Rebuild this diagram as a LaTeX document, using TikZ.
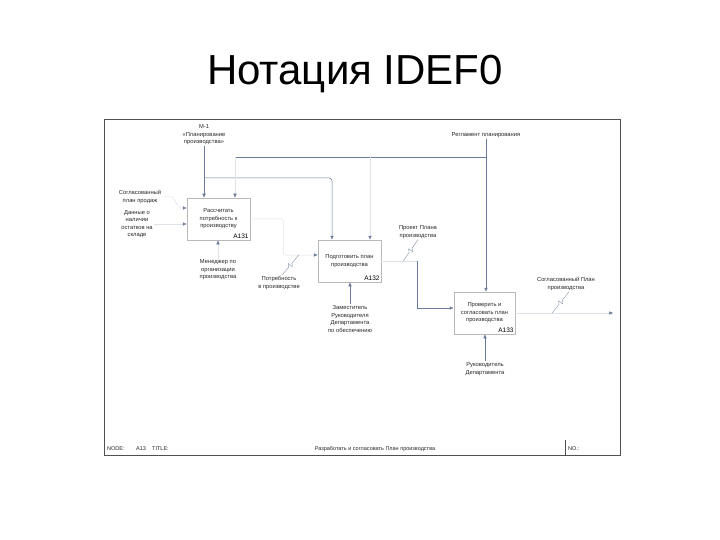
\documentclass[tikz,border=0pt]{standalone}
\usepackage{fontspec}
\setmainfont{Liberation Sans}
\usetikzlibrary{arrows.meta, positioning, calc}
\definecolor{flowcol}{HTML}{6A7A99}
\definecolor{framecol}{HTML}{505050}

\begin{document}
\begin{tikzpicture}[x=1pt, y=-1pt,
  act/.style={draw=gray!55, line width=0.5pt, minimum width=63pt, minimum height=42pt,
    font=\fontsize{5.8}{7.5}\selectfont, align=center, inner sep=1pt, text=black!85},
  num/.style={font=\fontsize{6.5}{7.5}\selectfont, anchor=south east, inner sep=1.5pt},
  lbl/.style={font=\fontsize{5.8}{7.5}\selectfont, align=center, inner sep=1pt, text=black!85},
  foot/.style={font=\fontsize{5.5}{6.5}\selectfont, anchor=west, inner sep=0pt, text=black!85},
  conn/.style={-{Latex[length=4pt, width=3.6pt, color=flowcol]}, draw=flowcol, line width=0.5pt},
  faint/.style={draw=flowcol!22, line width=0.5pt},
  squig/.style={draw=flowcol!80, line width=0.4pt,
    to path={-- ($(\tikztostart)!0.4!(\tikztotarget)$)
             -- ($(\tikztostart)!0.5!(\tikztotarget)!2.5pt!90:(\tikztotarget)$)
             -- ($(\tikztostart)!0.5!(\tikztotarget)!2.5pt!-90:(\tikztotarget)$)
             -- ($(\tikztostart)!0.6!(\tikztotarget)$) -- (\tikztotarget)}},
  title/.style={font=\fontsize{42}{46}\selectfont},
]
\useasboundingbox[fill=white] (0,0) rectangle (720,540);

% =================== Title ===================
\node[title, anchor=base] (head) at (355,85) {Нотация IDEF0};

% =================== Sheet and footer ===================
\node[draw=framecol, line width=0.6pt, minimum width=516pt, minimum height=336pt,
      inner sep=0pt] (sheet) at (362,287) {};
\node[foot] (fnode) at (107,449) {NODE:};
\node[foot] (fa13) at (136,449) {A13};
\node[foot] (ftitle) at (152,449) {TITLE:};
\node[foot, anchor=center] (fname) at (375,449) {Разработать и согласовать План производства};
\node[foot] (fno) at (568,449) {NO.:};
\draw[framecol, line width=0.5pt] ([xshift=-3pt]fno.west |- 0,440) -- ([xshift=-3pt]fno.west |- sheet.south);

% =================== Activities ===================
\node[act] (a131) at (218.5,219) {Рассчитать\\потребность к\\производству};
\node[num] at (a131.south east) {A131};
\node[act] (a132) at (349.5,261) {Подготовить план\\производства};
\node[num] at (a132.south east) {A132};
\node[act, minimum width=61pt] (a133) at (484.5,313) {Проверить и\\согласовать план\\производства};
\node[num] at (a133.south east) {A133};

% =================== Controls ===================
\node[lbl] (m1) at (204,135) {М-1\\«Планирование\\производства»};
\node[lbl] (reg) at (486,135) {Регламент планирования};
\coordinate (bus1) at (204,178);
\coordinate (bus2) at (235,157);

\draw[conn] (m1.south) -- (m1.south |- a131.north);
\draw[conn, rounded corners=3pt] (bus1) -| ([xshift=-17.5pt]a132.north);
\draw[draw=flowcol, line width=0.5pt] (bus2) -- (reg.south |- bus2);
\draw[conn] (reg.south) -- (reg.south |- a133.north);
\draw[conn, faint] (bus2) -- (bus2 |- a131.north);
\draw[conn, faint] ([xshift=20.5pt]a132.north |- bus2) -- ([xshift=20.5pt]a132.north);

% =================== Inputs ===================
\node[lbl] (sales) at (140,197) {Согласованный\\план продаж};
\node[lbl] (stock) at (137,224) {Данные о\\наличии\\остатков на\\складе};

\draw[conn, faint] (sales.east) -- ++(10,0) -- ([xshift=-7pt, yshift=11pt]a131.west)
  -- ([yshift=11pt]a131.west);
\draw[conn, faint] (stock.east) -- (stock.east -| a131.west);

% =================== Mechanisms ===================
\node[lbl] (mgr) at (218,270) {Менеджер по\\организации\\производства};
\node[lbl] (dep) at (350,319) {Заместитель\\Руководителя\\Департамента\\по обеспечению};
\node[lbl] (boss) at (485,369) {Руководитель\\Департамента};

\draw[conn, faint] (mgr.north) -- (mgr.north |- a131.south);
\draw[conn] (dep.north) -- (dep.north |- a132.south);
\draw[conn] (boss.north) -- (boss.north |- a133.south);

% =================== Outputs ===================
\node[lbl] (need) at (279,283) {Потребность\\в производстве};
\node[lbl] (draft) at (418,232) {Проект Плана\\производства};
\node[lbl] (final) at (566,284) {Согласованный План\\производства};

% A131 -> A132
\draw[conn, faint, rounded corners=2pt] (a131.east) -- ++(33,0) |- ([yshift=6pt]a132.west);
\draw[squig] ([xshift=3pt]need.north) to ([xshift=-19pt, yshift=6pt]a132.west);

% A132 -> A133
\coordinate (turn2) at ([xshift=36pt]a132.east);
\draw[faint] (a132.east) -- (turn2);
\draw[conn] (turn2) |- ([yshift=5pt]a133.west);
\draw[squig] (draft.south) to ([xshift=22pt]a132.east);

% A133 -> out
\draw[conn, faint] (a133.east) -- ([xshift=-7pt]sheet.east |- a133.east);
\draw[squig] ([xshift=3pt]final.south) to ([xshift=37pt]a133.east);

\end{tikzpicture}
\end{document}
